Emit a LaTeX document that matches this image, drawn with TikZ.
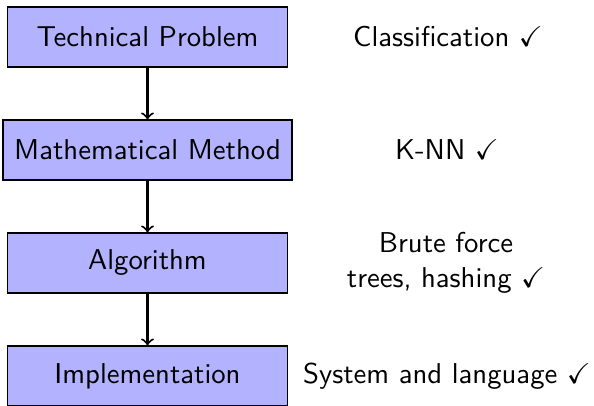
\documentclass[tikz,border=0pt]{standalone}
\usepackage{amssymb}
\begin{document}
\begin{tikzpicture}[x=0.3484pt,y=-0.3484pt,font=\sffamily,
  stage/.style={draw=black,fill=blue!30,minimum width=97.6pt,minimum height=20.9pt,inner sep=0pt,line width=0.4pt},
  note/.style={align=center,inner sep=0pt},
  flow/.style={->,line width=0.7pt}]
\useasboundingbox (0,0) rectangle (594,406);
\node[stage] (tp) at (147.5,37) {Technical Problem};
\node[stage,minimum width=100.7pt] (mm) at (147.5,150) {Mathematical Method};
\node[stage] (al) at (147.5,263) {Algorithm};
\node[stage] (im) at (147.5,376) {Implementation};
\draw[flow] (tp) -- (mm);
\draw[flow] (mm) -- (al);
\draw[flow] (al) -- (im);
\node[note] (n1) at (448,37) {Classification \checkmark};
\node[note] (n2) at (447,150) {K-NN \checkmark};
\node[note] (n3) at (446,263) {Brute force\\ trees, hashing \checkmark};
\node[note] (n4) at (447,376) {System and language \checkmark};
\end{tikzpicture}
\end{document}
